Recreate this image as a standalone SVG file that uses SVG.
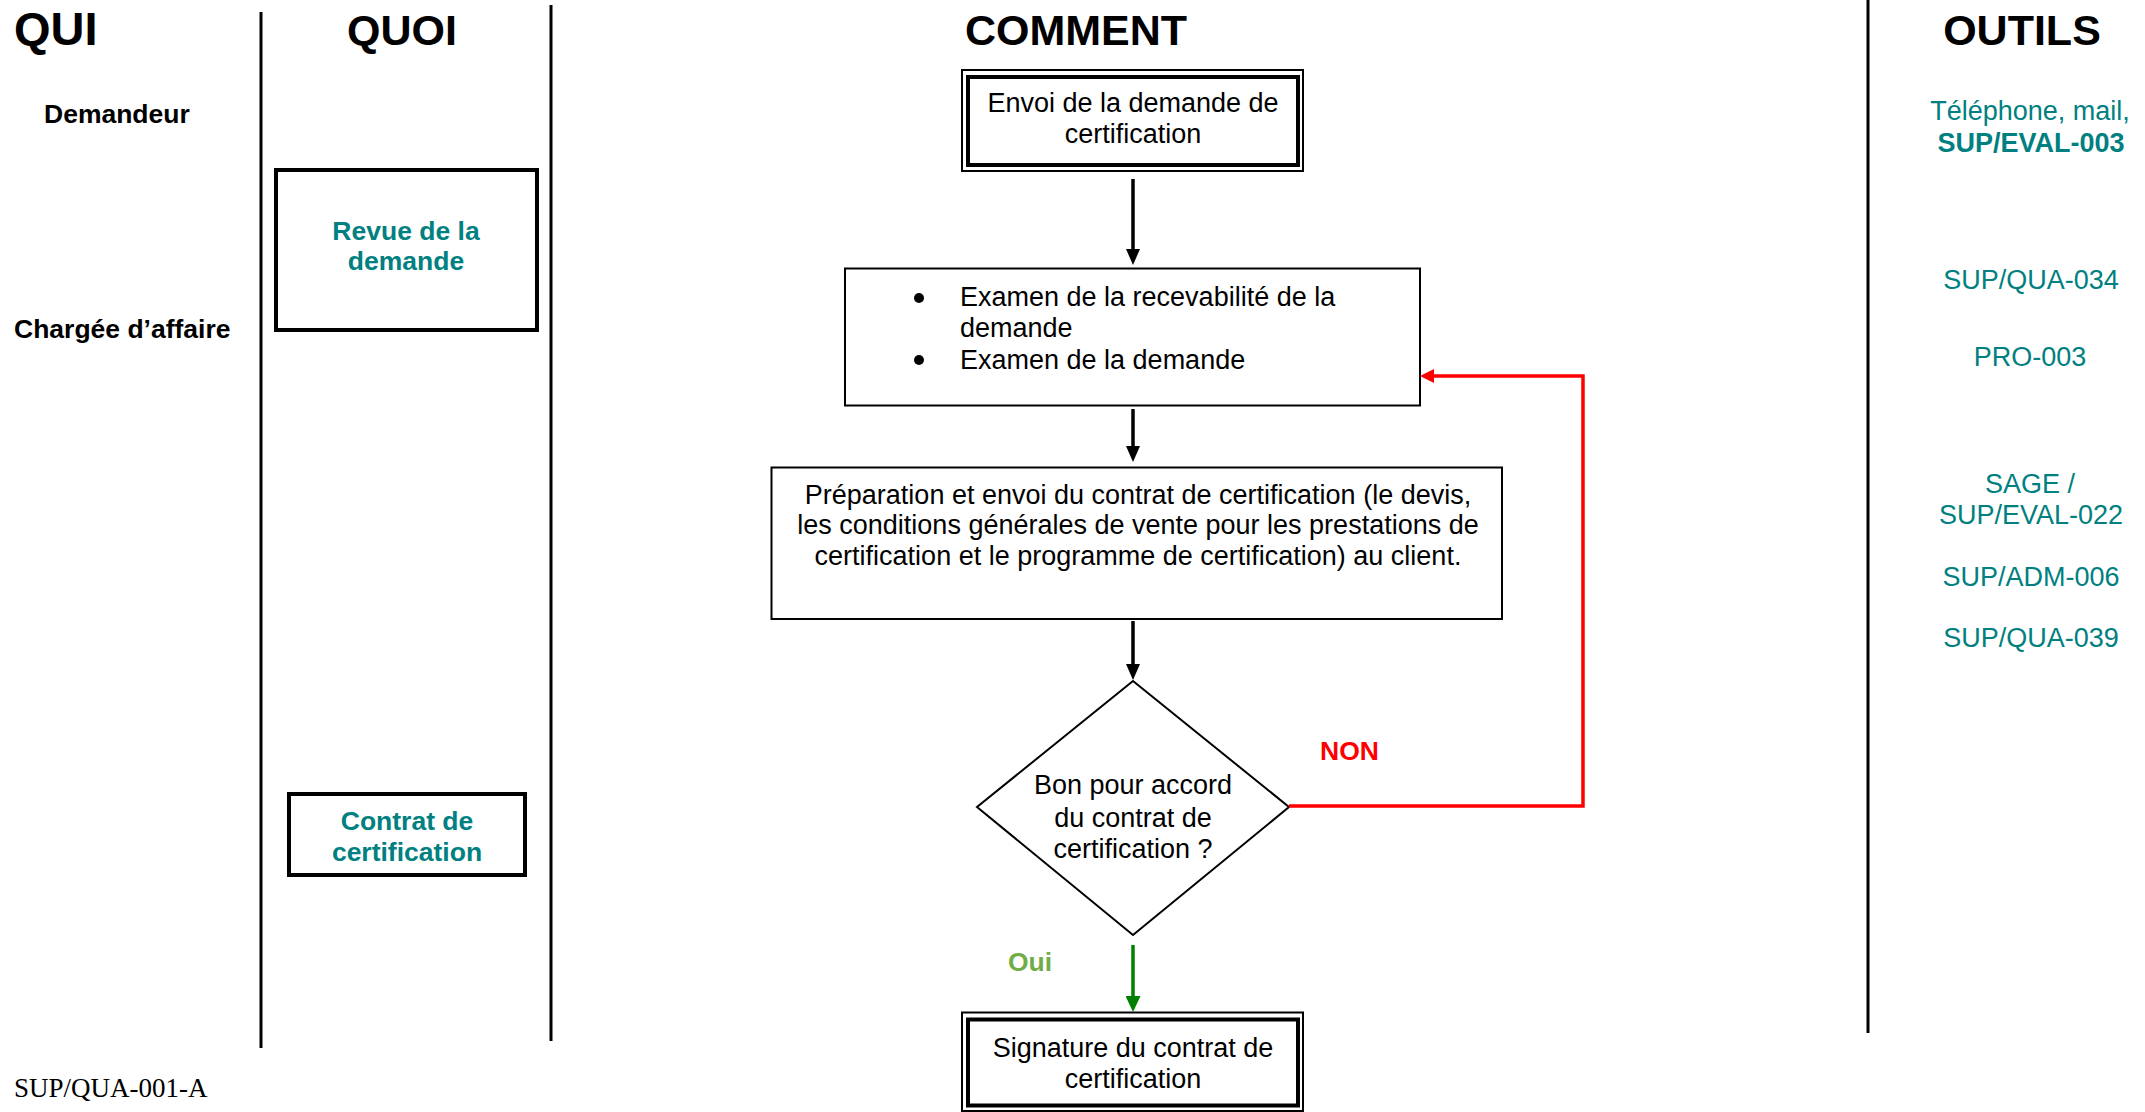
<svg xmlns="http://www.w3.org/2000/svg" width="2145" height="1112" viewBox="0 0 2145 1112">
  <style>
    text { font-family: "Liberation Sans", Arial, Helvetica, sans-serif; }
    .head { font-size: 43px; font-weight: bold; fill: #000; text-anchor: middle; }
    .who { font-size: 26.5px; font-weight: bold; fill: #000; }
    .what { font-size: 26.5px; font-weight: bold; fill: #008080; text-anchor: middle; }
    .body { font-size: 27px; fill: #000; }
    .mid { text-anchor: middle; }
    .tool { font-size: 27px; fill: #008080; text-anchor: middle; }
    .tool-b { font-weight: bold; }
    .ref { font-family: "Liberation Serif", "Times New Roman", serif; font-size: 27px; fill: #000; }
    .divider { stroke: #000; stroke-width: 3; fill: none; }
    .box { fill: #fff; stroke: #000; stroke-width: 2; }
    .box-thick { fill: #fff; stroke: #000; stroke-width: 4; }
    .dbl-outer { fill: #fff; stroke: #000; stroke-width: 2; }
    .dbl-inner { fill: none; stroke: #000; stroke-width: 4; }
    .flow { stroke: #000; stroke-width: 3.5; fill: none; }
    .flow-yes { stroke: #008000; stroke-width: 3.5; fill: none; }
    .flow-no { stroke: #ff0000; stroke-width: 3.5; fill: none; }
  </style>
  <defs>
    <marker id="head-black" markerUnits="userSpaceOnUse" markerWidth="16" markerHeight="14" refX="0" refY="7" orient="auto">
      <path d="M0,0 L16,7 L0,14 z" fill="#000"/>
    </marker>
    <marker id="head-green" markerUnits="userSpaceOnUse" markerWidth="16" markerHeight="15" refX="0" refY="7.5" orient="auto">
      <path d="M0,0 L16,7.5 L0,15 z" fill="#008000"/>
    </marker>
    <marker id="head-red" markerUnits="userSpaceOnUse" markerWidth="14" markerHeight="14" refX="0" refY="7" orient="auto">
      <path d="M0,0 L14,7 L0,14 z" fill="#ff0000"/>
    </marker>
  </defs>

  <rect width="2145" height="1112" fill="#fff"/>

  <!-- column headings and separators -->
  <g id="columns">
    <text x="14" y="45" style="font-size:47px;font-weight:bold">QUI</text>
    <text class="head" x="402" y="45">QUOI</text>
    <text class="head" x="1076" y="45">COMMENT</text>
    <text class="head" x="2022" y="45">OUTILS</text>
    <line class="divider" x1="261" y1="12" x2="261" y2="1048"/>
    <line class="divider" x1="551" y1="5" x2="551" y2="1041"/>
    <line class="divider" x1="1868" y1="0" x2="1868" y2="1033"/>
  </g>

  <!-- actors -->
  <g id="actor-demandeur">
    <text class="who" x="44" y="123">Demandeur</text>
  </g>
  <g id="actor-chargee">
    <text class="who" x="14" y="338">Chargée d’affaire</text>
  </g>

  <!-- QUOI column -->
  <g id="quoi-revue">
    <rect class="box-thick" x="276" y="170" width="261" height="160"/>
    <text class="what" x="406" y="240">Revue de la</text>
    <text class="what" x="406" y="270">demande</text>
  </g>
  <g id="quoi-contrat">
    <rect class="box-thick" x="289" y="794" width="236" height="81"/>
    <text class="what" x="407" y="830">Contrat de</text>
    <text class="what" x="407" y="861">certification</text>
  </g>

  <!-- COMMENT column: process steps -->
  <g id="step-envoi">
    <rect class="dbl-outer" x="962" y="70" width="341" height="101"/>
    <rect class="dbl-inner" x="968" y="77" width="330" height="88"/>
    <text class="body mid" x="1133" y="112">Envoi de la demande de</text>
    <text class="body mid" x="1133" y="143">certification</text>
  </g>

  <g id="step-examen">
    <rect class="box" x="845" y="268.5" width="575" height="137"/>
    <circle cx="919" cy="298" r="5" fill="#000"/>
    <circle cx="919" cy="360" r="5" fill="#000"/>
    <text class="body" x="960" y="306">Examen de la recevabilité de la</text>
    <text class="body" x="960" y="337">demande</text>
    <text class="body" x="960" y="369">Examen de la demande</text>
  </g>

  <g id="step-preparation">
    <rect class="box" x="771.5" y="467.5" width="730.5" height="151.5"/>
    <text class="body mid" x="1138" y="504">Préparation et envoi du contrat de certification (le devis,</text>
    <text class="body mid" x="1138" y="534">les conditions générales de vente pour les prestations de</text>
    <text class="body mid" x="1138" y="565">certification et le programme de certification) au client.</text>
  </g>

  <g id="decision-accord">
    <polygon class="box" points="1133,681 1289,807 1133,935 977,807"/>
    <text class="body mid" x="1133" y="794">Bon pour accord</text>
    <text class="body mid" x="1133" y="827">du contrat de</text>
    <text class="body mid" x="1133" y="858">certification ?</text>
  </g>

  <g id="step-signature">
    <rect class="dbl-outer" x="962" y="1012.5" width="341" height="98.5"/>
    <rect class="dbl-inner" x="968" y="1019.5" width="330" height="86"/>
    <text class="body mid" x="1133" y="1057">Signature du contrat de</text>
    <text class="body mid" x="1133" y="1088">certification</text>
  </g>

  <!-- OUTILS column -->
  <g id="tools">
    <text class="tool" x="2030" y="120">Téléphone, mail,</text>
    <text class="tool tool-b" x="2031" y="152">SUP/EVAL-003</text>
    <text class="tool" x="2031" y="289">SUP/QUA-034</text>
    <text class="tool" x="2030" y="366">PRO-003</text>
    <text class="tool" x="2030" y="493">SAGE /</text>
    <text class="tool" x="2031" y="524">SUP/EVAL-022</text>
    <text class="tool" x="2031" y="586">SUP/ADM-006</text>
    <text class="tool" x="2031" y="647">SUP/QUA-039</text>
  </g>

  <!-- connectors -->
  <g id="connectors">
    <line class="flow" x1="1133" y1="179" x2="1133" y2="249" marker-end="url(#head-black)"/>
    <line class="flow" x1="1133" y1="409" x2="1133" y2="446" marker-end="url(#head-black)"/>
    <line class="flow" x1="1133" y1="621" x2="1133" y2="664" marker-end="url(#head-black)"/>
    <line class="flow-yes" x1="1133" y1="945" x2="1133" y2="996" marker-end="url(#head-green)"/>
    <path class="flow-no" d="M1289,806 H1583 V376 H1434" marker-end="url(#head-red)"/>
    <text x="1320" y="760" style="font-size:26.5px;font-weight:bold;fill:#ff0000">NON</text>
    <text x="1008" y="971" style="font-size:26.5px;font-weight:bold;fill:#70ad47">Oui</text>
  </g>

  <!-- document reference -->
  <g id="footer">
    <text class="ref" x="14" y="1097">SUP/QUA-001-A</text>
  </g>
</svg>
